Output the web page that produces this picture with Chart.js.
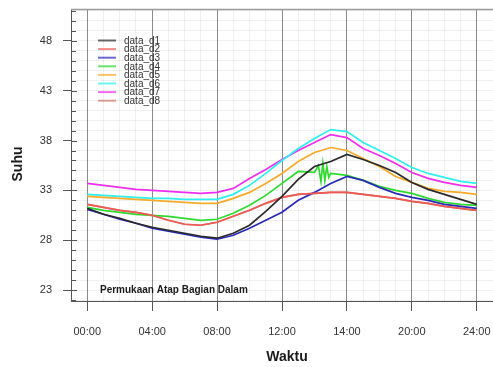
<!DOCTYPE html>
<html>
<head>
<meta charset="utf-8">
<script src="https://cdn.jsdelivr.net/npm/chart.js@4/dist/chart.umd.min.js"></script>
<style>
  body { margin: 0; background: #fff; }
  #wrap { width: 493px; height: 367px; }
</style>
</head>
<body>
<div id="wrap"><canvas id="suhuChart" width="493" height="367"></canvas></div>
<script>
// x positions in tick units (one unit = one labelled tick), 0.25 steps
const xPos = [0, 0.25, 0.5, 0.75, 1, 1.25, 1.5, 1.75, 2, 2.25, 2.5, 2.75, 3,
              3.25, 3.5, 3.75, 4, 4.25, 4.5, 4.75, 5, 5.25, 5.5, 5.75, 6];
const tickLabels = ['00:00', '04:00', '08:00', '12:00', '14:00', '20:00', '24:00'];
const seriesNames = ['data_d1', 'data_d2', 'data_d3', 'data_d4', 'data_d5', 'data_d6', 'data_d7', 'data_d8'];
const seriesColors = ['#2a2a2a', '#ee5a55', '#2a2ab8', '#2ed82e', '#f5aa2a', '#2eeeee', '#ee2eee', '#c87a6a'];

const d1 = [31.2, 30.6, 30.2, 29.7, 29.3, 29.0, 28.7, 28.4, 28.2, 28.7, 29.5, 30.9, 32.4,
            34.1, 35.4, 35.9, 36.6, 36.1, 35.5, 34.8, 33.8, 33.1, 32.6, 32.1, 31.6];
const d2 = [31.6, 31.3, 31.0, 30.8, 30.5, 30.0, 29.6, 29.5, 29.8, 30.4, 31.0, 31.7, 32.3,
            32.6, 32.7, 32.8, 32.8, 32.6, 32.4, 32.2, 31.9, 31.7, 31.4, 31.2, 31.0];
const d3 = [31.1, 30.6, 30.1, 29.7, 29.2, 28.9, 28.6, 28.3, 28.1, 28.5, 29.2, 30.0, 30.8,
            32.0, 32.8, 33.7, 34.4, 34.0, 33.3, 32.7, 32.3, 32.0, 31.6, 31.4, 31.2];
const d4 = [31.3, 31.0, 30.8, 30.6, 30.5, 30.4, 30.2, 30.0, 30.1, 30.7, 31.5, 32.5, 33.7,
            34.9, 34.8, 34.7, 34.5, 34.0, 33.4, 33.0, 32.7, 32.2, 31.8, 31.6, 31.5];
const d5 = [32.4, 32.3, 32.2, 32.1, 32.0, 31.9, 31.8, 31.7, 31.7, 32.2, 32.8, 33.7, 34.7,
            35.9, 36.8, 37.3, 37.0, 36.2, 35.4, 34.4, 33.8, 33.2, 32.9, 32.8, 32.6];
const d6 = [32.6, 32.5, 32.4, 32.3, 32.2, 32.2, 32.1, 32.1, 32.1, 32.6, 33.5, 34.7, 36.0,
            37.2, 38.2, 39.1, 38.9, 37.8, 37.0, 36.2, 35.3, 34.7, 34.3, 33.9, 33.7];
const d7 = [33.7, 33.5, 33.3, 33.1, 33.0, 32.9, 32.8, 32.7, 32.8, 33.2, 34.2, 35.1, 36.1,
            37.0, 37.8, 38.6, 38.3, 37.2, 36.5, 35.7, 34.8, 34.2, 33.8, 33.5, 33.3];
const d8 = [31.6, 31.3, 31.0, 30.8, 30.5, 30.0, 29.6, 29.5, 29.8, 30.4, 31.0, 31.7, 32.3,
            32.6, 32.7, 32.8, 32.8, 32.6, 32.4, 32.2, 31.9, 31.7, 31.4, 31.2, 31.0];

// short burst on the green line around 13:00
const greenSpikeX = [3.56, 3.6, 3.63, 3.66, 3.69, 3.72];
const greenSpikeY = [35.5, 33.9, 35.7, 34.0, 35.4, 34.3];

const allSeries = [d1, d2, d3, d4, d5, d6, d7, d8];

function toPoints(vals) {
  return vals.map((v, i) => ({x: xPos[i], y: v}));
}

const datasets = allSeries.map((vals, k) => {
  let pts = toPoints(vals);
  if (k === 3) {
    greenSpikeX.forEach((x, i) => pts.push({x: x, y: greenSpikeY[i]}));
    pts.sort((a, b) => a.x - b.x);
  }
  return {
    label: seriesNames[k],
    data: pts,
    borderColor: seriesColors[k],
    borderWidth: 1.7,
    pointRadius: 0,
    tension: 0,
    fill: false
  };
});

const FONT = '"Liberation Sans", Arial, sans-serif';

// extra drawing: frame, inner tick marks, legend, titles, note
const extras = {
  id: 'extras',
  afterDraw(chart) {
    const c = chart.ctx;
    const a = chart.chartArea;
    const ys = chart.scales.y;
    c.save();
    // top frame line
    c.strokeStyle = '#9a9a9a';
    c.lineWidth = 1.5;
    c.beginPath();
    c.moveTo(a.left, a.top + 0.5);
    c.lineTo(a.right, a.top + 0.5);
    c.stroke();
    // inner y tick marks
    c.strokeStyle = '#555';
    c.lineWidth = 1;
    for (let v = 22; v <= 51; v++) {
      const py = Math.round(ys.getPixelForValue(v)) + 0.5;
      const len = ((v - 23) % 5 === 0) ? 6 : 5;
      c.beginPath();
      c.moveTo(a.left, py);
      c.lineTo(a.left + len, py);
      c.stroke();
    }
    // legend
    c.font = '10px ' + FONT;
    c.textBaseline = 'middle';
    c.textAlign = 'left';
    chart.data.datasets.forEach((ds, i) => {
      const ly = 40.5 + i * 8.6;
      c.strokeStyle = ds.borderColor;
      c.globalAlpha = 0.7;
      c.lineWidth = 2;
      c.beginPath();
      c.moveTo(98, ly);
      c.lineTo(116, ly);
      c.stroke();
      c.globalAlpha = 1;
      c.fillStyle = '#333';
      c.fillText(ds.label, 124, ly + 0.5);
    });
    // note in the plot
    c.font = 'bold 10px ' + FONT;
    c.fillStyle = '#1a1a1a';
    c.fillText('Permukaan Atap Bagian Dalam', 100, 290);
    // axis titles
    c.font = 'bold 14px ' + FONT;
    c.textAlign = 'center';
    c.fillText('Waktu', 287, 357);
    c.translate(18, 164);
    c.rotate(-Math.PI / 2);
    c.fillText('Suhu', 0, 0);
    c.restore();
  }
};

new Chart(document.getElementById('suhuChart'), {
  type: 'line',
  data: { datasets: datasets },
  options: {
    responsive: false,
    animation: false,
    devicePixelRatio: 1,
    layout: { padding: { top: 9, left: 0, right: 0, bottom: 0 } },
    plugins: { legend: { display: false }, tooltip: { enabled: false } },
    scales: {
      x: {
        type: 'linear',
        min: -0.25,
        max: 6.25,
        afterFit(s) { s.height = 66; s.paddingLeft = 0; s.paddingRight = 0; },
        border: { display: true, color: '#555', width: 1 },
        grid: {
          color: (ctx) => Number.isInteger(ctx.tick.value) ? '#8a8a8a' : 'rgba(0,0,0,0.06)',
          lineWidth: 1,
          tickLength: 10,
          tickColor: (ctx) => Number.isInteger(ctx.tick.value) ? '#555' : 'rgba(0,0,0,0)'
        },
        ticks: {
          stepSize: 0.25,
          includeBounds: false,
          autoSkip: false,
          maxRotation: 0,
          padding: 14,
          color: '#333',
          font: { family: FONT, size: 11 },
          callback: (v) => Number.isInteger(v) ? tickLabels[v] : ''
        }
      },
      y: {
        type: 'linear',
        min: 21.9,
        max: 51.2,
        afterFit(s) { s.width = 71; s.paddingTop = 0; s.paddingBottom = 0; },
        border: { display: true, color: '#555', width: 1 },
        grid: {
          color: 'rgba(0,0,0,0.06)',
          lineWidth: 1,
          tickLength: 8,
          tickColor: (ctx) => ((ctx.tick.value - 23) % 5 === 0) ? '#555' : 'rgba(0,0,0,0)'
        },
        ticks: {
          stepSize: 1,
          includeBounds: false,
          autoSkip: false,
          padding: 11,
          color: '#333',
          font: { family: FONT, size: 11 },
          callback: (v) => ((v - 23) % 5 === 0) ? String(v) : ''
        }
      }
    }
  },
  plugins: [extras]
});
</script>
</body>
</html>
